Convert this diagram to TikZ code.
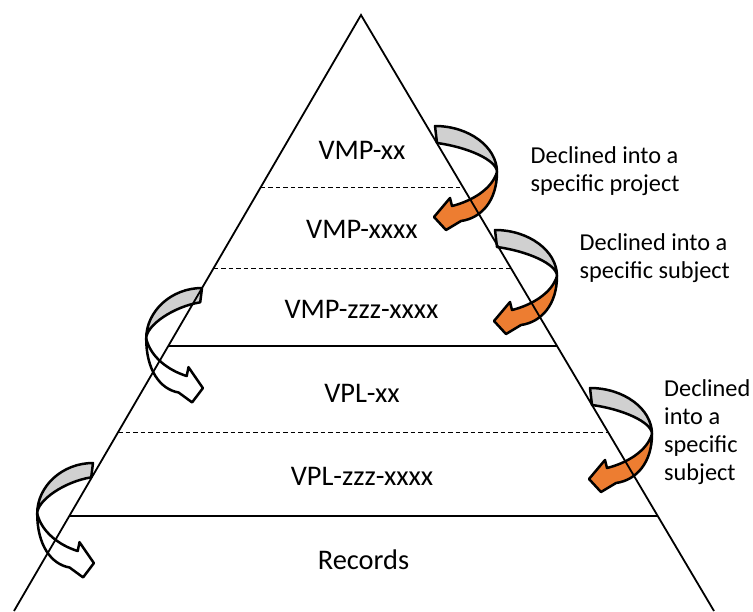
\documentclass[tikz,border=0pt]{standalone}
\usepackage{fontspec}
\setmainfont{Carlito}
\usetikzlibrary{calc}
\definecolor{ribbonorange}{HTML}{ED7D31}
\definecolor{ribbongray}{HTML}{D0D0D0}
\tikzset{
  sideline/.style={line width=1.8pt},
  tierline/.style={line width=1.6pt},
  subtierline/.style={line width=0.9pt, dash pattern=on 4.5pt off 3pt},
  level/.style={font=\fontsize{28.4}{34}\selectfont, anchor=base, inner sep=0pt},
  note/.style={font=\fontsize{24.3}{28}\selectfont, align=left, anchor=north west, inner sep=0pt},
  ribbonfront/.style={fill=ribbonorange},
  ribbonedge/.style={line width=2.5pt, line join=round},
  ribbon band/.store in=\ribbonband,
  ribbon band=17,
  pics/ribbon/.style={code={
    % back face of the band
    \draw[ribbonedge, fill=ribbongray]
      (0,0) .. controls (34,0) and (62,21) .. (62,46)
            .. controls (62,34) and (32,\ribbonband+4) .. (2,\ribbonband) -- cycle;
    % front face ending in the arrow head
    \draw[ribbonedge, ribbonfront]
      (62,46) .. controls (62,74) and (47,92) .. (26,95)
      -- (11,104) -- (-1,91) -- (15,72) -- (17,80)
      .. controls (37,75) and (57,63) .. (62,46) -- cycle;
  }},
  leftribbon/.style={xscale=-0.9, yscale=1.1, ribbon band=13, ribbonfront/.style={fill=white}}
}
\begin{document}
\begin{tikzpicture}[x=1pt, y=-1pt]
\useasboundingbox (0,0) rectangle (753,611);

% curved arrows
\pic at (435,126) {ribbon};
\pic at (495,230) {ribbon};
\pic at (590,388) {ribbon};
\pic[leftribbon] at (202,288) {ribbon};
\pic[leftribbon] at (93,463) {ribbon};

% pyramid outline
\coordinate (apex) at (361,15);
\coordinate (bl) at (14,611);
\coordinate (br) at (714,611);
\draw[sideline, line join=miter] (bl) -- (apex) -- (br);

% tier boundaries
\coordinate (d1l) at ($(apex)!0.2886!(bl)$);
\coordinate (d1r) at ($(apex)!0.2886!(br)$);
\coordinate (d2l) at ($(apex)!0.4245!(bl)$);
\coordinate (d2r) at ($(apex)!0.4245!(br)$);
\coordinate (s1l) at ($(apex)!0.5554!(bl)$);
\coordinate (s1r) at ($(apex)!0.5554!(br)$);
\coordinate (d3l) at ($(apex)!0.6997!(bl)$);
\coordinate (d3r) at ($(apex)!0.6997!(br)$);
\coordinate (s2l) at ($(apex)!0.8406!(bl)$);
\coordinate (s2r) at ($(apex)!0.8406!(br)$);
\draw[subtierline] (d1l) -- (d1r);
\draw[subtierline] (d2l) -- (d2r);
\draw[tierline] (s1l) -- (s1r);
\draw[subtierline] (d3l) -- (d3r);
\draw[tierline] (s2l) -- (s2r);

% tier labels
\node[level] (vmpxx) at (362,159) {VMP-xx};
\node[level] (vmpxxxx) at (362,238) {VMP-xxxx};
\node[level] (vmpzzz) at (361.5,318) {VMP-zzz-xxxx};
\node[level] (vplxx) at (362,402) {VPL-xx};
\node[level] (vplzzz) at (362,485) {VPL-zzz-xxxx};
\node[level] (records) at (363.5,569) {Records};

% side notes
\node[note] (noteproject) at (530.5,146) {Declined into a\\specific project};
\node[note] (notesubject) at (579.5,233) {Declined into a\\specific subject};
\node[note] (notesubjectb) at (664,379) {Declined\\into a\\specific\\subject};
\end{tikzpicture}
\end{document}
